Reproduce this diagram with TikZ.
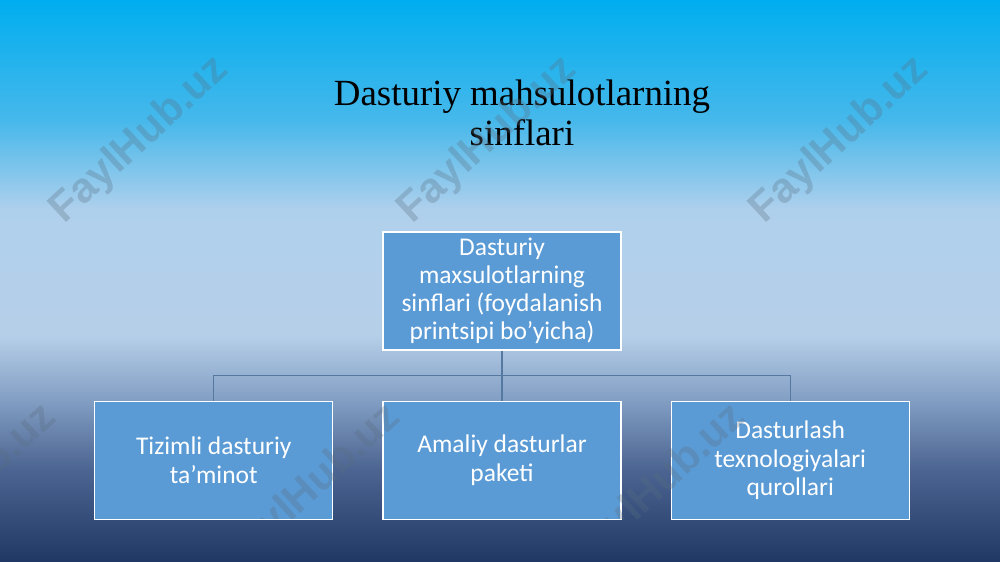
\documentclass[tikz,border=0pt]{standalone}
\usepackage{fontspec}
\setmainfont{Carlito}
\newfontfamily\titlefont{Liberation Serif}
\newfontfamily\wmfont{Liberation Sans}
\usepackage{xcolor}
\usepackage{tikz}
\usetikzlibrary{positioning,calc}

\definecolor{bgA}{RGB}{31,56,100}
\definecolor{bgB}{RGB}{75,100,145}
\definecolor{bgC}{RGB}{130,158,195}
\definecolor{bgD}{RGB}{182,207,233}
\definecolor{bgE}{RGB}{175,208,236}
\definecolor{bgF}{RGB}{70,184,235}
\definecolor{bgG}{RGB}{0,174,239}
\definecolor{boxblue}{RGB}{91,155,213}
\definecolor{linkblue}{RGB}{84,120,160}
\definecolor{wmgray}{RGB}{90,110,130}

\pgfdeclareverticalshading{slidebg}{100bp}{color(0bp)=(bgA); color(25bp)=(bgA);
  color(33.2bp)=(bgB); color(39.4bp)=(bgC); color(45.2bp)=(bgD);
  color(56.3bp)=(bgE); color(64.3bp)=(bgF); color(75bp)=(bgG); color(100bp)=(bgG)}

\begin{document}
\begin{tikzpicture}[node distance=1cm,
    cls block/.style={rectangle, draw=white, line width=0.7pt, fill=boxblue,
      text=white, minimum width=4.76cm, minimum height=2.36cm, align=center,
      font=\fontsize{14.5}{16}\selectfont},
    cls line/.style={draw=linkblue, line width=0.6pt},
    cls mark/.style={rotate=42.7, text=wmgray, text opacity=0.3,
      font=\wmfont\bfseries\fontsize{24}{24}\selectfont}]

    \useasboundingbox (0,0) rectangle (20,11.24);
    \clip (0,0) rectangle (20,11.24);
    \shade[shading=slidebg] (0,0) rectangle (20,11.24);

    \node [font=\titlefont\fontsize{21}{22.5}\selectfont, align=center] (title) at (10.44,8.98)
      {Dasturiy mahsulotlarning\\sinflari};

    \node [cls block] (top) at (10.04,5.42)
      {Dasturiy\\maxsulotlarning\\sinflari (foydalanish\\printsipi bo’yicha)};
    \node [cls block, below=of top] (mid) {Amaliy dasturlar\\paketi};
    \node [cls block, left=0.98cm of mid] (left) {Tizimli dasturiy\\ta’minot};
    \node [cls block, right=0.98cm of mid] (right) {Dasturlash\\texnologiyalari\\qurollari};

    \draw [cls line] (top.south) -- (mid.north);
    \draw [cls line] (left.north) -- ++(0,0.5) -| (right.north);

    % watermarks on top
    \foreach \i/\x in {1/2.8, 2/9.76, 3/16.8}
      \node [cls mark] (wm\i) at (\x,8.44) {FaylHub.uz};
    \begin{scope}
      \clip (0,0.86) rectangle (20,11.24);
      \foreach \i/\x in {4/-0.64, 5/6.24, 6/13.14}
        \node [cls mark] (wm\i) at (\x,1.48) {FaylHub.uz};
    \end{scope}

\end{tikzpicture}
\end{document}
